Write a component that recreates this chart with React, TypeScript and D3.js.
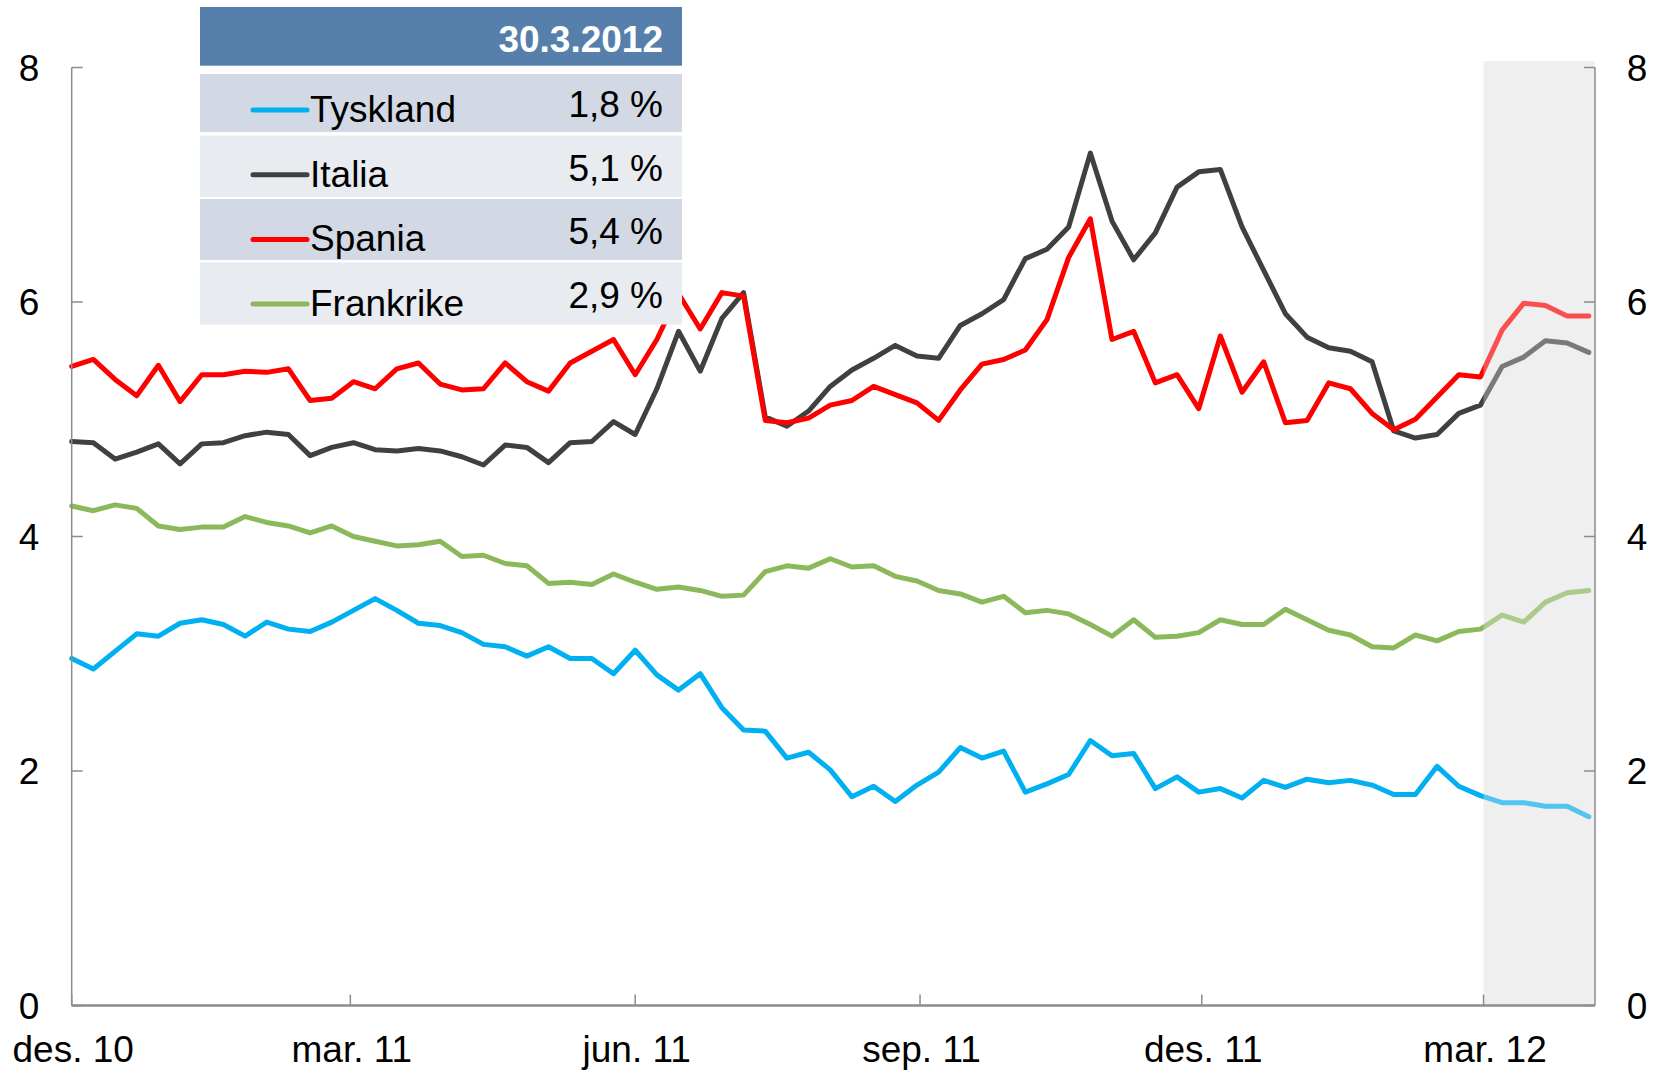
import React from 'react';
import * as d3 from 'd3';

// weekly observations, first week of des. 2010 to early april 2012
const tyskland = [
  2.96, 2.87, 3.02, 3.17, 3.15, 3.26, 3.29, 3.25, 3.15, 3.27, 3.21, 3.19, 3.27, 3.37, 3.47, 3.37,
  3.26, 3.24, 3.18, 3.08, 3.06, 2.98, 3.06, 2.96, 2.96, 2.83, 3.03, 2.82, 2.69, 2.83, 2.54, 2.35,
  2.34, 2.11, 2.16, 2.01, 1.78, 1.87, 1.74, 1.88, 1.99, 2.2, 2.11, 2.17, 1.82, 1.89, 1.97, 2.26,
  2.13, 2.15, 1.85, 1.95, 1.82, 1.85, 1.77, 1.92, 1.86, 1.93, 1.9, 1.92, 1.88, 1.8, 1.8, 2.04,
  1.87, 1.79, 1.73, 1.73, 1.7, 1.7, 1.61,
];
const italia = [
  4.81, 4.8, 4.66, 4.72, 4.79, 4.62, 4.79, 4.8, 4.86, 4.89, 4.87, 4.69, 4.76, 4.8, 4.74, 4.73,
  4.75, 4.73, 4.68, 4.61, 4.78, 4.76, 4.63, 4.8, 4.81, 4.98, 4.87, 5.26, 5.75, 5.41, 5.86, 6.08,
  5.02, 4.94, 5.07, 5.28, 5.42, 5.52, 5.63, 5.54, 5.52, 5.8, 5.9, 6.02, 6.37, 6.45, 6.64, 7.27,
  6.69, 6.36, 6.59, 6.98, 7.11, 7.13, 6.64, 6.27, 5.9, 5.7, 5.61, 5.58, 5.49, 4.9, 4.84, 4.87,
  5.05, 5.12, 5.45, 5.53, 5.67, 5.65, 5.57,
];
const spania = [
  5.45, 5.51, 5.34, 5.2, 5.46, 5.15, 5.38, 5.38, 5.41, 5.4, 5.43, 5.16, 5.18, 5.32, 5.26, 5.43,
  5.48, 5.3, 5.25, 5.26, 5.48, 5.32, 5.24, 5.48, 5.58, 5.68, 5.38, 5.68, 6.07, 5.77, 6.08, 6.05,
  4.99, 4.97, 5.01, 5.12, 5.16, 5.28, 5.21, 5.14, 4.99, 5.25, 5.47, 5.51, 5.59, 5.85, 6.38, 6.71,
  5.68, 5.75, 5.31, 5.38, 5.09, 5.71, 5.23, 5.49, 4.97, 4.99, 5.31, 5.26, 5.05, 4.91, 5.0, 5.19,
  5.38, 5.36, 5.76, 5.99, 5.97, 5.88, 5.88,
];
const frankrike = [
  4.26, 4.22, 4.27, 4.24, 4.09, 4.06, 4.08, 4.08, 4.17, 4.12, 4.09, 4.03, 4.09, 4.0, 3.96, 3.92,
  3.93, 3.96, 3.83, 3.84, 3.77, 3.75, 3.6, 3.61, 3.59, 3.68, 3.61, 3.55, 3.57, 3.54, 3.49, 3.5,
  3.7, 3.75, 3.73, 3.81, 3.74, 3.75, 3.66, 3.62, 3.54, 3.51, 3.44, 3.49, 3.35, 3.37, 3.34, 3.25,
  3.15, 3.29, 3.14, 3.15, 3.18, 3.29, 3.25, 3.25, 3.38, 3.29, 3.2, 3.16, 3.06, 3.05, 3.16, 3.11,
  3.19, 3.21, 3.33, 3.27, 3.44, 3.52, 3.54,
];

const seriesNames = ['Tyskland', 'Italia', 'Spania', 'Frankrike'];
const seriesColors = ['#00B0F0', '#404040', '#FF0000', '#8CB85C'];
const legendValues = ['1,8 %', '5,1 %', '5,4 %', '2,9 %'];
const legendDate = '30.3.2012';
const xTickLabels = ['des. 10', 'mar. 11', 'jun. 11', 'sep. 11', 'des. 11', 'mar. 12'];
const yTicks = [0, 2, 4, 6, 8];

const firstWeek = new Date(2010, 11, 1);
const axisEnd = new Date(2012, 3, 6);
const shadeStart = new Date(2012, 2, 1);

const W = 1659;
const H = 1070;
const FONT = '"Liberation Sans", Arial, sans-serif';
const AXIS = '#8C8C8C';
const FS = 37;

export default function App() {
  const allSeries = [tyskland, italia, spania, frankrike];
  const dates = tyskland.map((_, i) => d3.timeDay.offset(firstWeek, 7 * i));

  const x = d3.scaleTime().domain([firstWeek, axisEnd]).range([71.7, 1595]);
  const y = d3.scaleLinear().domain([0, 8]).range([1005.5, 67.5]);

  const line = d3
    .line<number>()
    .x((_, i) => x(dates[i]))
    .y((d) => y(d));

  const tickDates = d3.timeMonth.range(firstWeek, axisEnd, 3);

  const [x0, x1] = x.range();
  const shadeX = x(shadeStart);
  const shadeTop = y(8.055);

  // legend geometry
  const lgLeft = 200;
  const lgRight = 682;
  const rowTops = [74, 135.5, 199, 262.5];
  const rowH = [58, 61.5, 61, 62];
  const rowFills = ['#D3D9E4', '#E8EBF0', '#D3D9E4', '#E8EBF0'];

  return (
    <div style={{ position: 'absolute', left: 0, top: 0, width: W, height: H, background: '#fff' }}>
      <svg width={W} height={H} style={{ display: 'block' }} fontFamily={FONT}>
        {/* forecast shading */}
        <rect x={shadeX} y={shadeTop} width={x1 - shadeX} height={y(0) - shadeTop} fill="#EFEFEF" />

        {/* series */}
        {allSeries.map((s, k) => (
          <path
            key={seriesNames[k]}
            d={line(s) || ''}
            fill="none"
            stroke={seriesColors[k]}
            strokeWidth={5}
            strokeLinejoin="round"
            strokeLinecap="round"
          />
        ))}

        {/* wash over the shaded period */}
        <rect
          x={shadeX}
          y={shadeTop}
          width={x1 - shadeX}
          height={y(0) - shadeTop}
          fill="#EFEFEF"
          opacity={0.33}
        />

        {/* left axis */}
        <line x1={x0} x2={x0} y1={y(8)} y2={y(0)} stroke={AXIS} strokeWidth={1.5} />
        {yTicks.map((t) => (
          <g key={'l' + t}>
            <line x1={x0} x2={x0 + 11} y1={y(t)} y2={y(t)} stroke={AXIS} strokeWidth={1.5} />
            <text x={29} y={y(t) + 13} textAnchor="middle" fontSize={FS} fill="#000">
              {t}
            </text>
          </g>
        ))}

        {/* right axis */}
        <line x1={x1} x2={x1} y1={y(8)} y2={y(0)} stroke={AXIS} strokeWidth={1.5} />
        {yTicks.map((t) => (
          <g key={'r' + t}>
            <line x1={x1 - 11} x2={x1} y1={y(t)} y2={y(t)} stroke={AXIS} strokeWidth={1.5} />
            <text x={1637} y={y(t) + 13} textAnchor="middle" fontSize={FS} fill="#000">
              {t}
            </text>
          </g>
        ))}

        {/* bottom axis */}
        <line x1={x0} x2={x1} y1={y(0)} y2={y(0)} stroke={AXIS} strokeWidth={2.5} />
        {tickDates.map((d, i) => (
          <g key={'x' + i}>
            <line x1={x(d)} x2={x(d)} y1={y(0)} y2={y(0) - 11} stroke={AXIS} strokeWidth={1.5} />
            <text x={x(d) + 1.5} y={1062} textAnchor="middle" fontSize={FS} fill="#000">
              {xTickLabels[i]}
            </text>
          </g>
        ))}

        {/* legend table */}
        <rect x={lgLeft} y={7} width={lgRight - lgLeft} height={58.7} fill="#5680AB" />
        <text x={663} y={52} textAnchor="end" fontSize={FS} fontWeight="bold" fill="#fff">
          {legendDate}
        </text>
        {seriesNames.map((name, k) => (
          <g key={'lg' + name}>
            <rect x={lgLeft} y={rowTops[k]} width={lgRight - lgLeft} height={rowH[k]} fill={rowFills[k]} />
            <line
              x1={253}
              x2={307}
              y1={110 + 64.7 * k}
              y2={110 + 64.7 * k}
              stroke={seriesColors[k]}
              strokeWidth={5}
              strokeLinecap="round"
            />
            <text x={310} y={122 + 64.5 * k} fontSize={FS} fill="#000">
              {name}
            </text>
            <text x={663} y={117 + 63.7 * k} textAnchor="end" fontSize={FS} fill="#000">
              {legendValues[k]}
            </text>
          </g>
        ))}
      </svg>
    </div>
  );
}
